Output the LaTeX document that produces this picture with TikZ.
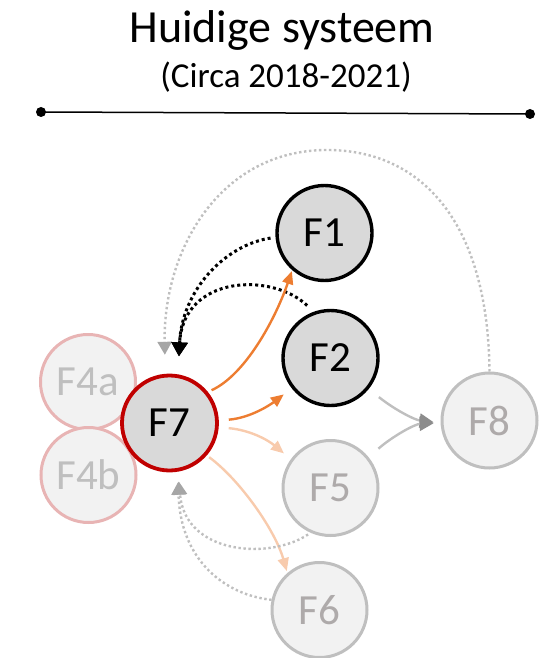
\documentclass[tikz,border=0pt]{standalone}
\usepackage{fontspec}
\setmainfont{Carlito}
\usetikzlibrary{arrows.meta}
\definecolor{accent}{HTML}{ED7D31}
\definecolor{peach}{HTML}{F8CBAD}
\definecolor{fillDark}{HTML}{D9D9D9}
\definecolor{fillLight}{HTML}{F2F2F2}
\definecolor{ringGray}{HTML}{BFBFBF}
\definecolor{textGray}{HTML}{AEAAAA}
\definecolor{textPale}{HTML}{BFBFBF}
\definecolor{ringRed}{HTML}{C00000}
\definecolor{ringPink}{HTML}{E8B4B4}
\definecolor{dotGray}{HTML}{BFBFBF}
\definecolor{headGray}{HTML}{8C8C8C}
\definecolor{headLight}{HTML}{A6A6A6}

\begin{document}
\begin{tikzpicture}[x=1pt,y=-1pt,
  fnode/.style={circle, minimum size=95pt, inner sep=0pt,
                font=\fontsize{43}{43}\selectfont},
  active/.style={fnode, fill=fillDark, draw=black, line width=3.4pt, text=black},
  focus/.style={fnode, fill=fillDark, draw=ringRed, line width=3.8pt, text=black},
  faded/.style={fnode, fill=fillLight, draw=ringGray, line width=3pt, text=textGray},
  fadedred/.style={fnode, fill=fillLight, draw=ringPink, line width=3pt, text=textPale},
  blackdot/.style={black, line width=3pt, dash pattern=on 3pt off 3pt,
                   -{Triangle[length=14pt,width=16pt]}},
  graydot/.style={dotGray, line width=2.4pt, dash pattern=on 2.4pt off 2.6pt,
                  -{Triangle[length=13pt,width=14pt,color=headLight]}},
  flowmain/.style={accent, line width=2.4pt, -{Triangle[length=13pt,width=11pt]}},
  flowpale/.style={peach, line width=2.4pt, -{Triangle[length=13pt,width=11pt]}},
  flowgray/.style={ringGray, line width=2.4pt, -{Triangle[length=14pt,width=14pt,color=headGray]}}
]
\useasboundingbox (0,0) rectangle (549,658);

% heading and timeline
\node[anchor=base, font=\fontsize{46}{46}\selectfont] (title) at (282,43) {Huidige systeem};
\node[anchor=base, font=\fontsize{35}{35}\selectfont] (period) at (286,88) {(Circa 2018-2021)};
\coordinate (tlA) at (41,112);
\coordinate (tlB) at (530,114);
\draw[line width=1.5pt] (tlA) -- (tlB);
\fill (tlA) circle (5pt);
\fill (tlB) circle (5pt);

% functions
\node[fadedred] (F4a) at (88,382) {F4a};
\node[fadedred] (F4b) at (88.5,475) {F4b};
\node[focus]  (F7) at (169.5,423) {F7};
\node[active] (F1) at (324.5,233) {F1};
\node[active] (F2) at (330.5,358) {F2};
\node[faded]  (F5) at (330.5,488) {F5};
\node[faded]  (F6) at (319.5,610) {F6};
\node[faded]  (F8) at (489.5,420.5) {F8};

% feedback into F7 from above
\draw[graydot, shorten >=19pt] (F8.north)
  .. controls (488,220) and (420,150) .. (327,150)
  .. controls (220,150) and (163,250) .. (F7.95);
\draw[blackdot, shorten <=5pt, shorten >=18pt] (F1.185)
  .. controls (225,245) and (182,290) .. (F7.80);
\draw[blackdot, shorten <=9pt, shorten >=18pt] (F2.110)
  .. controls (272,272) and (183,275) .. (F7.80);

% outgoing flows from F7
\draw[flowmain, shorten <=4pt, shorten >=1pt] (F7.39)
  .. controls (245,375) and (275,320) .. (F1.229);
\draw[flowmain, shorten <=10pt, shorten >=10pt] (F7.3)
  .. controls (250,418) and (270,405) .. (F2.218);
\draw[flowpale, shorten <=10pt, shorten >=9pt] (F7.-5)
  .. controls (250,430) and (268,440) .. (F5.144);
\draw[flowpale, shorten <=3pt, shorten >=2pt] (F7.-41)
  .. controls (240,480) and (275,530) .. (F6.131);

% flows into F8
\draw[flowgray, shorten <=13pt, shorten >=7pt] (F2.-39)
  .. controls (395,410) and (415,420) .. (F8.183);
\draw[flowgray, shorten <=13pt, shorten >=7pt] (F5.39)
  .. controls (393,436) and (415,424) .. (F8.183);

% feedback into F7 from below
\draw[graydot, shorten <=3pt, shorten >=10pt] (F5.246)
  .. controls (270,560) and (185,555) .. (F7.-80);
\draw[graydot, shorten >=10pt] (F6.168)
  .. controls (225,595) and (180,560) .. (F7.-80);
\end{tikzpicture}
\end{document}
